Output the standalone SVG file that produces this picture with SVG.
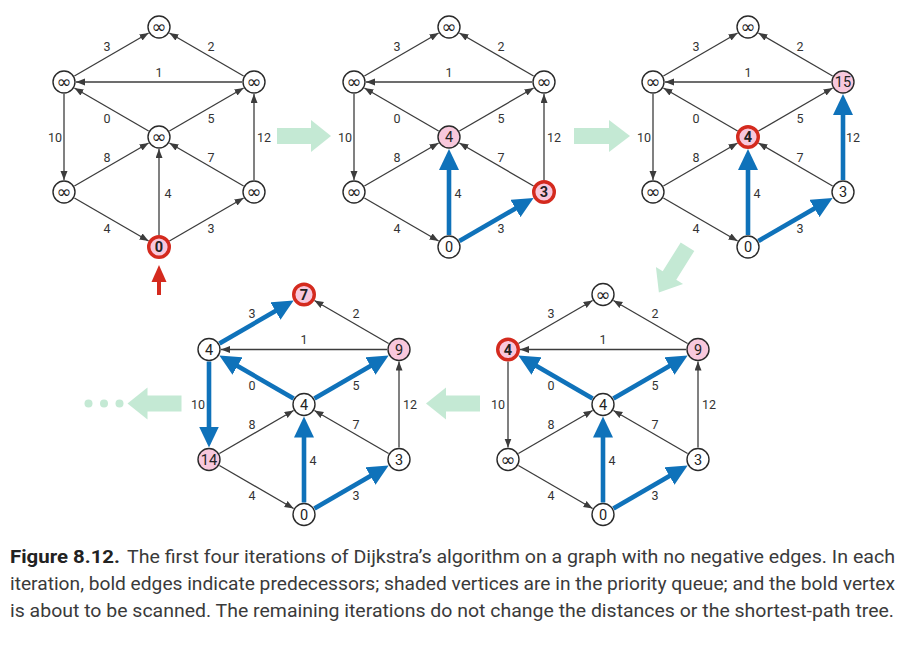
<svg xmlns="http://www.w3.org/2000/svg" width="908" height="646" viewBox="0 0 908 646">
<style>
.e{stroke:#3c3c3c;stroke-width:1.3;fill:none;marker-end:url(#ah)}
.b{stroke:#0f72ba;stroke-width:4.6;fill:none;marker-end:url(#bh)}
.n circle{fill:#fff;stroke:#2a2a2a;stroke-width:1.4}
.q circle{fill:#f8c8dc}
.s circle{fill:#f8c8dc;stroke:#d42a1e;stroke-width:3.4}
.n text{font-family:Roboto,"Liberation Sans",sans-serif;font-size:14.5px;fill:#222;text-anchor:middle}
.s text{font-weight:bold}
.n text.inf{font-family:"DejaVu Sans",sans-serif;font-size:18px}
.el text{font-family:Roboto,"Liberation Sans",sans-serif;font-size:12.5px;fill:#333;text-anchor:middle}
.g{fill:#c4e9d4}
.cap{font-family:Roboto,"Liberation Sans",sans-serif;font-size:19px;fill:#3a3a3a}
.capb{font-weight:bold;fill:#222}
</style>
<defs>
<marker id="ah" markerUnits="userSpaceOnUse" markerWidth="10" markerHeight="8" refX="9" refY="3.5" orient="auto"><path d="M0,0 L9,3.5 L0,7z" fill="#3c3c3c"/></marker>
<marker id="bh" markerUnits="userSpaceOnUse" markerWidth="22" markerHeight="20" refX="2" refY="10" orient="auto"><path d="M0,0 L21,10 L0,20z" fill="#0f72ba"/></marker>
</defs>

<!-- big green flow arrows -->
<g id="flow">
<polygon class="g" points="277,128 311,128 311,120 331,136 311,152 311,144 277,144"/>
<polygon class="g" points="574,128 609,128 609,120 630,136 609,152 609,144 574,144"/>
<polygon class="g" transform="translate(687.5,246.7) rotate(122)" points="0,-8 34,-8 34,-16 54,0 34,16 34,8 0,8"/>
<polygon class="g" transform="translate(480,403.5) rotate(180)" points="0,-8 34,-8 34,-16 54,0 34,16 34,8 0,8"/>
<polygon class="g" transform="translate(181.5,403.5) rotate(180)" points="0,-8 34,-8 34,-16 54,0 34,16 34,8 0,8"/>
<circle class="g" cx="88.5" cy="403.5" r="4"/>
<circle class="g" cx="104" cy="403.5" r="4"/>
<circle class="g" cx="119.5" cy="403.5" r="4"/>
</g>

<!-- Iteration 1 -->
<g id="it1" transform="translate(159,137)">
<g id="it1-connectors">
<path class="e" d="M-84.6,-61 L-10.4,-104"/>
<path class="e" d="M84.6,-61 L10.4,-104"/>
<path class="e" d="M83,-55 L-83,-55"/>
<path class="e" d="M-10.4,-6 L-84.6,-49"/>
<path class="e" d="M10.4,-6 L84.6,-49"/>
<path class="e" d="M-95,-43 L-95,43"/>
<path class="e" d="M95,43 L95,-43"/>
<path class="e" d="M-84.6,49 L-10.4,6"/>
<path class="e" d="M84.6,49 L10.4,6"/>
<path class="e" d="M0,98 L0,12"/>
<path class="e" d="M-84.6,61 L-10.4,104"/>
<path class="e" d="M10.4,104 L84.6,61"/>
<path d="M0,158 L0,143" stroke="#d42a1e" stroke-width="4" fill="none"/>
<polygon points="0,128 7.5,145 -7.5,145" fill="#d42a1e"/>
</g>
<g class="el">
<text x="-52" y="-86.5">3</text><text x="52" y="-86.5">2</text><text x="0" y="-60.5">1</text>
<text x="-52" y="-14.5">0</text><text x="52" y="-14.5">5</text>
<text x="-104" y="4.5">10</text><text x="105" y="4.5">12</text>
<text x="-52" y="24.5">8</text><text x="52" y="24.5">7</text><text x="9" y="60.5">4</text>
<text x="-52" y="95.5">4</text><text x="52" y="95.5">3</text>
</g>
<g id="it1-T" class="n" transform="translate(0,-110)"><circle r="11"/><text class="inf" y="6">∞</text></g>
<g id="it1-UL" class="n" transform="translate(-95,-55)"><circle r="11"/><text class="inf" y="6">∞</text></g>
<g id="it1-UR" class="n" transform="translate(95,-55)"><circle r="11"/><text class="inf" y="6">∞</text></g>
<g id="it1-C" class="n" transform="translate(0,0)"><circle r="11"/><text class="inf" y="6">∞</text></g>
<g id="it1-LL" class="n" transform="translate(-95,55)"><circle r="11"/><text class="inf" y="6">∞</text></g>
<g id="it1-LR" class="n" transform="translate(95,55)"><circle r="11"/><text class="inf" y="6">∞</text></g>
<g id="it1-B" class="n s" transform="translate(0,110)"><circle r="10.3"/><text y="5">0</text></g>
</g>

<!-- Iteration 2 -->
<g id="it2" transform="translate(449,137)">
<g id="it2-connectors">
<path class="e" d="M-84.6,-61 L-10.4,-104"/>
<path class="e" d="M84.6,-61 L10.4,-104"/>
<path class="e" d="M83,-55 L-83,-55"/>
<path class="e" d="M-10.4,-6 L-84.6,-49"/>
<path class="e" d="M10.4,-6 L84.6,-49"/>
<path class="e" d="M-95,-43 L-95,43"/>
<path class="e" d="M95,43 L95,-43"/>
<path class="e" d="M-84.6,49 L-10.4,6"/>
<path class="e" d="M84.6,49 L10.4,6"/>
<path class="b" d="M0,98 L0,31"/>
<path class="e" d="M-84.6,61 L-10.4,104"/>
<path class="b" d="M10.4,104 L68.2,70.5"/>
</g>
<g class="el">
<text x="-52" y="-86.5">3</text><text x="52" y="-86.5">2</text><text x="0" y="-60.5">1</text>
<text x="-52" y="-14.5">0</text><text x="52" y="-14.5">5</text>
<text x="-104" y="4.5">10</text><text x="105" y="4.5">12</text>
<text x="-52" y="24.5">8</text><text x="52" y="24.5">7</text><text x="9" y="60.5">4</text>
<text x="-52" y="95.5">4</text><text x="52" y="95.5">3</text>
</g>
<g id="it2-T" class="n" transform="translate(0,-110)"><circle r="11"/><text class="inf" y="6">∞</text></g>
<g id="it2-UL" class="n" transform="translate(-95,-55)"><circle r="11"/><text class="inf" y="6">∞</text></g>
<g id="it2-UR" class="n" transform="translate(95,-55)"><circle r="11"/><text class="inf" y="6">∞</text></g>
<g id="it2-C" class="n q" transform="translate(0,0)"><circle r="11"/><text y="5">4</text></g>
<g id="it2-LL" class="n" transform="translate(-95,55)"><circle r="11"/><text class="inf" y="6">∞</text></g>
<g id="it2-LR" class="n s" transform="translate(95,55)"><circle r="10.3"/><text y="5">3</text></g>
<g id="it2-B" class="n" transform="translate(0,110)"><circle r="11"/><text y="5">0</text></g>
</g>

<!-- Iteration 3 -->
<g id="it3" transform="translate(748,137)">
<g id="it3-connectors">
<path class="e" d="M-84.6,-61 L-10.4,-104"/>
<path class="e" d="M84.6,-61 L10.4,-104"/>
<path class="e" d="M83,-55 L-83,-55"/>
<path class="e" d="M-10.4,-6 L-84.6,-49"/>
<path class="e" d="M10.4,-6 L84.6,-49"/>
<path class="e" d="M-95,-43 L-95,43"/>
<path class="b" d="M95,43 L95,-24"/>
<path class="e" d="M-84.6,49 L-10.4,6"/>
<path class="e" d="M84.6,49 L10.4,6"/>
<path class="b" d="M0,98 L0,31"/>
<path class="e" d="M-84.6,61 L-10.4,104"/>
<path class="b" d="M10.4,104 L68.2,70.5"/>
</g>
<g class="el">
<text x="-52" y="-86.5">3</text><text x="52" y="-86.5">2</text><text x="0" y="-60.5">1</text>
<text x="-52" y="-14.5">0</text><text x="52" y="-14.5">5</text>
<text x="-104" y="4.5">10</text><text x="105" y="4.5">12</text>
<text x="-52" y="24.5">8</text><text x="52" y="24.5">7</text><text x="9" y="60.5">4</text>
<text x="-52" y="95.5">4</text><text x="52" y="95.5">3</text>
</g>
<g id="it3-T" class="n" transform="translate(0,-110)"><circle r="11"/><text class="inf" y="6">∞</text></g>
<g id="it3-UL" class="n" transform="translate(-95,-55)"><circle r="11"/><text class="inf" y="6">∞</text></g>
<g id="it3-UR" class="n q" transform="translate(95,-55)"><circle r="11"/><text y="5">15</text></g>
<g id="it3-C" class="n s" transform="translate(0,0)"><circle r="10.3"/><text y="5">4</text></g>
<g id="it3-LL" class="n" transform="translate(-95,55)"><circle r="11"/><text class="inf" y="6">∞</text></g>
<g id="it3-LR" class="n" transform="translate(95,55)"><circle r="11"/><text y="5">3</text></g>
<g id="it3-B" class="n" transform="translate(0,110)"><circle r="11"/><text y="5">0</text></g>
</g>

<!-- Iteration 4 (bottom right) -->
<g id="it4" transform="translate(603,404.5)">
<g id="it4-connectors">
<path class="e" d="M-84.6,-61 L-10.4,-104"/>
<path class="e" d="M84.6,-61 L10.4,-104"/>
<path class="e" d="M83,-55 L-83,-55"/>
<path class="b" d="M-10.4,-6 L-68.2,-39.5"/>
<path class="b" d="M10.4,-6 L68.2,-39.5"/>
<path class="e" d="M-95,-43 L-95,43"/>
<path class="e" d="M95,43 L95,-43"/>
<path class="e" d="M-84.6,49 L-10.4,6"/>
<path class="e" d="M84.6,49 L10.4,6"/>
<path class="b" d="M0,98 L0,31"/>
<path class="e" d="M-84.6,61 L-10.4,104"/>
<path class="b" d="M10.4,104 L68.2,70.5"/>
</g>
<g class="el">
<text x="-52" y="-86.5">3</text><text x="52" y="-86.5">2</text><text x="0" y="-60.5">1</text>
<text x="-52" y="-14.5">0</text><text x="52" y="-14.5">5</text>
<text x="-105" y="4.5">10</text><text x="106" y="4.5">12</text>
<text x="-52" y="24.5">8</text><text x="52" y="24.5">7</text><text x="9" y="60.5">4</text>
<text x="-52" y="95.5">4</text><text x="52" y="95.5">3</text>
</g>
<g id="it4-T" class="n" transform="translate(0,-110)"><circle r="11"/><text class="inf" y="6">∞</text></g>
<g id="it4-UL" class="n s" transform="translate(-95,-55)"><circle r="10.3"/><text y="5">4</text></g>
<g id="it4-UR" class="n q" transform="translate(95,-55)"><circle r="11"/><text y="5">9</text></g>
<g id="it4-C" class="n" transform="translate(0,0)"><circle r="11"/><text y="5">4</text></g>
<g id="it4-LL" class="n" transform="translate(-95,55)"><circle r="11"/><text class="inf" y="6">∞</text></g>
<g id="it4-LR" class="n" transform="translate(95,55)"><circle r="11"/><text y="5">3</text></g>
<g id="it4-B" class="n" transform="translate(0,110)"><circle r="11"/><text y="5">0</text></g>
</g>

<!-- Iteration 5 (bottom left) -->
<g id="it5" transform="translate(304,404.5)">
<g id="it5-connectors">
<path class="b" d="M-84.6,-61 L-26.8,-94.5"/>
<path class="e" d="M84.6,-61 L10.4,-104"/>
<path class="e" d="M83,-55 L-83,-55"/>
<path class="b" d="M-10.4,-6 L-68.2,-39.5"/>
<path class="b" d="M10.4,-6 L68.2,-39.5"/>
<path class="b" d="M-95,-43 L-95,24"/>
<path class="e" d="M95,43 L95,-43"/>
<path class="e" d="M-84.6,49 L-10.4,6"/>
<path class="e" d="M84.6,49 L10.4,6"/>
<path class="b" d="M0,98 L0,31"/>
<path class="e" d="M-84.6,61 L-10.4,104"/>
<path class="b" d="M10.4,104 L68.2,70.5"/>
</g>
<g class="el">
<text x="-52" y="-86.5">3</text><text x="52" y="-86.5">2</text><text x="0" y="-60.5">1</text>
<text x="-52" y="-14.5">0</text><text x="52" y="-14.5">5</text>
<text x="-106" y="4.5">10</text><text x="106" y="4.5">12</text>
<text x="-52" y="24.5">8</text><text x="52" y="24.5">7</text><text x="9" y="60.5">4</text>
<text x="-52" y="95.5">4</text><text x="52" y="95.5">3</text>
</g>
<g id="it5-T" class="n s" transform="translate(0,-110)"><circle r="10.3"/><text y="5">7</text></g>
<g id="it5-UL" class="n" transform="translate(-95,-55)"><circle r="11"/><text y="5">4</text></g>
<g id="it5-UR" class="n q" transform="translate(95,-55)"><circle r="11"/><text y="5">9</text></g>
<g id="it5-C" class="n" transform="translate(0,0)"><circle r="11"/><text y="5">4</text></g>
<g id="it5-LL" class="n q" transform="translate(-95,55)"><circle r="11"/><text y="5">14</text></g>
<g id="it5-LR" class="n" transform="translate(95,55)"><circle r="11"/><text y="5">3</text></g>
<g id="it5-B" class="n" transform="translate(0,110)"><circle r="11"/><text y="5">0</text></g>
</g>

<!-- Caption -->
<g id="caption">
<text class="cap capb" x="10" y="563" textLength="110" lengthAdjust="spacingAndGlyphs">Figure 8.12.</text>
<text class="cap" x="127" y="563" textLength="768" lengthAdjust="spacingAndGlyphs">The first four iterations of Dijkstra’s algorithm on a graph with no negative edges.  In each</text>
<text class="cap" x="10" y="590" textLength="885" lengthAdjust="spacingAndGlyphs">iteration, bold edges indicate predecessors; shaded vertices are in the priority queue; and the bold vertex</text>
<text class="cap" x="10" y="617" textLength="884" lengthAdjust="spacingAndGlyphs">is about to be scanned.  The remaining iterations do not change the distances or the shortest-path tree.</text>
</g>
</svg>
